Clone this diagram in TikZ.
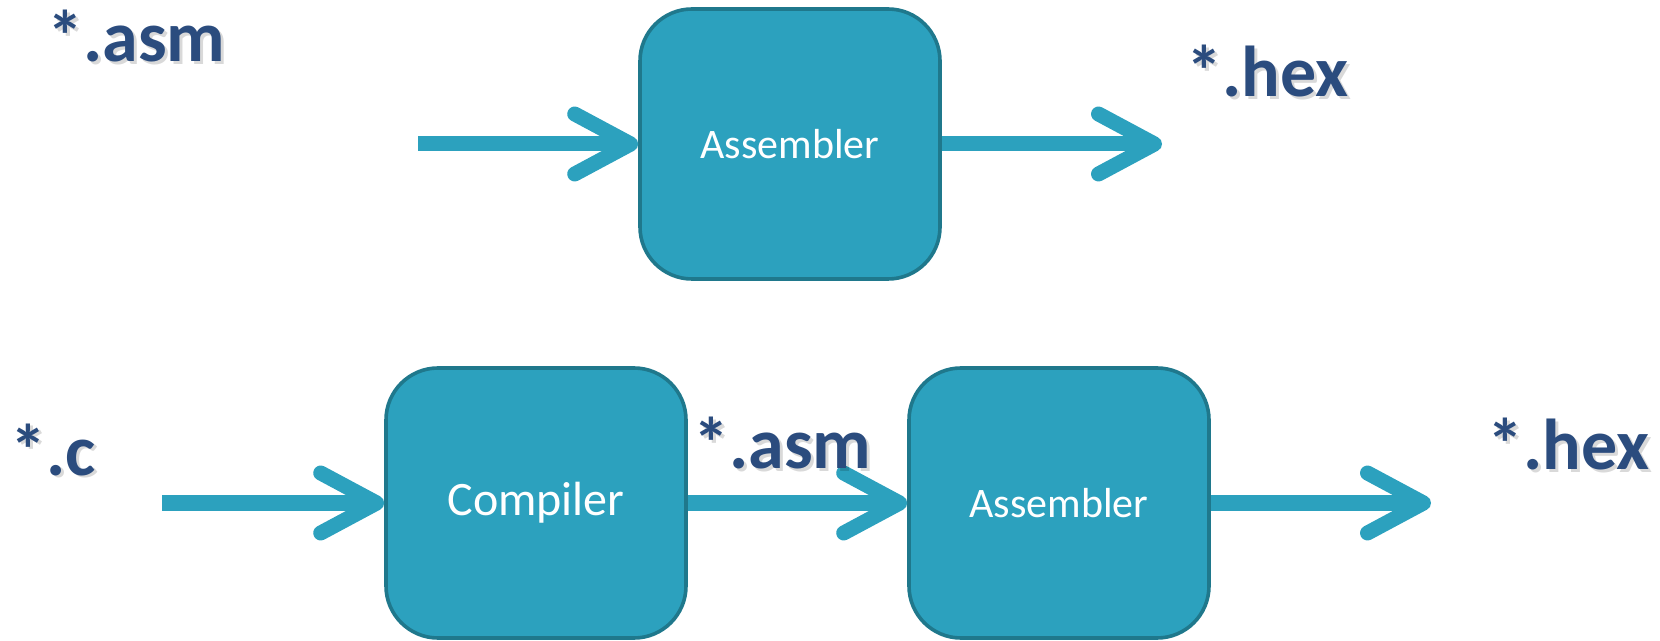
\documentclass[tikz,border=0pt]{standalone}
\usepackage{fontspec}
\setmainfont{Carlito}
\usetikzlibrary{arrows.meta,positioning}
\definecolor{boxfill}{RGB}{44,161,190}
\definecolor{boxline}{RGB}{31,120,140}
\definecolor{filecol}{RGB}{43,76,126}
\tikzset{
  toolbox/.style={draw=boxline,fill=boxfill,line width=1.8pt,rounded corners=26pt,
    minimum width=150pt,minimum height=135pt,text=white,font=\fontsize{21}{25}\selectfont},
  flow/.style={draw=boxfill,line width=7.5pt,-{Straight Barb[length=28pt,width=30pt,round]}},
  filename/.style={anchor=base west,inner sep=0pt,text=filecol,font=\bfseries\fontsize{36}{42}\selectfont},
  fileshadow/.style={filename,text=black,opacity=0.15},
}

\begin{document}
\begin{tikzpicture}[x=0.5pt,y=-0.5pt]
\useasboundingbox (0,0) rectangle (1660,641);
% assembler only
\node[toolbox] (asmtop) at (790,144) {Assembler};
\coordinate (asmin) at (418,144);
\coordinate (hexout) at (1162,144);
\draw[flow] (asmin) -- (asmtop);
\draw[flow] (asmtop) -- (hexout);
\node[fileshadow] (asmsrcsh) at (50,65) {*.asm};
\node[filename] (asmsrc) at (47,62) {*.asm};
\node[fileshadow] (hextopsh) at (1189,100) {*.hex};
\node[filename] (hextop) at (1186,97) {*.hex};
% compiler + assembler
\node[toolbox,font=\fontsize{24}{28}\selectfont] (cc) at (536,503) {Compiler};
\node[toolbox] (asmbot) at (1059,503) {Assembler};
\coordinate (cin) at (162,503);
\coordinate (hexbotout) at (1431,503);
\draw[flow] (cin) -- (cc);
\draw[flow] (cc) -- (asmbot);
\draw[flow] (asmbot) -- (hexbotout);
\node[fileshadow] (csrcsh) at (13,478) {*.c};
\node[filename] (csrc) at (10,475) {*.c};
\node[fileshadow] (asmmidsh) at (696,472) {*.asm};
\node[filename] (asmmid) at (693,469) {*.asm};
\node[fileshadow] (hexbotsh) at (1490,473) {*.hex};
\node[filename] (hexbot) at (1487,470) {*.hex};
\end{tikzpicture}
\end{document}
